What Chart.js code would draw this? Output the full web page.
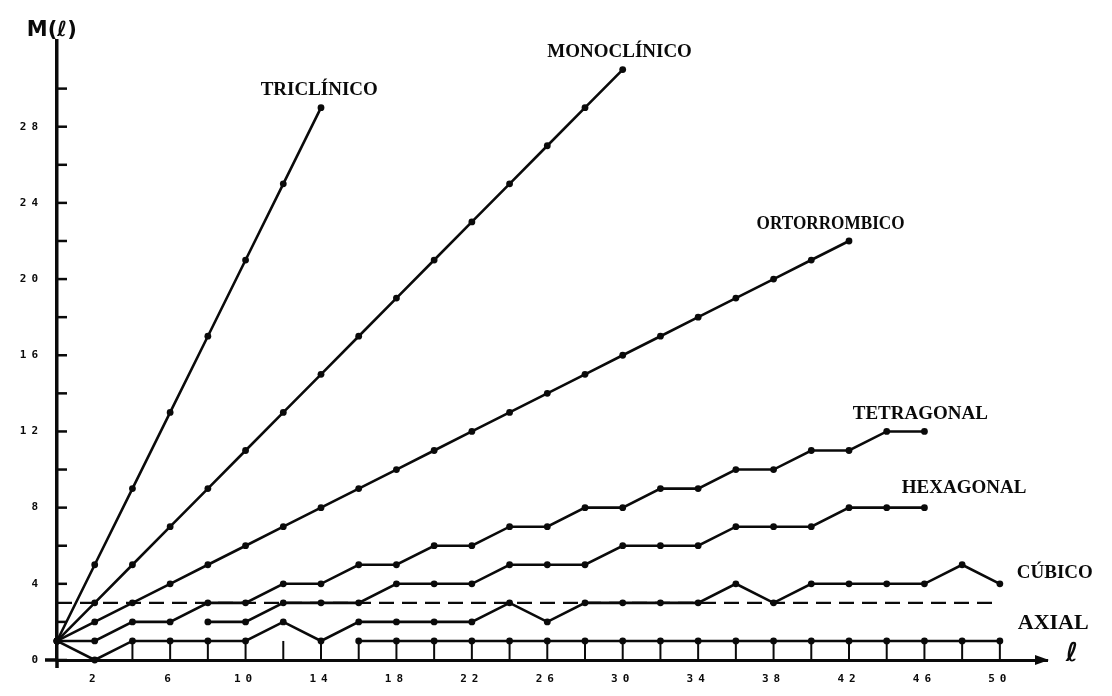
<!DOCTYPE html>
<html lang="es">
<head>
<meta charset="utf-8">
<title>M(ℓ)</title>
<script src="https://cdn.jsdelivr.net/npm/chart.js@4.4.1/dist/chart.umd.min.js"></script>
<style>
  html, body { margin: 0; padding: 0; background: #fff; }
  #wrap { width: 1112px; height: 696px; }
</style>
</head>
<body>
<div id="wrap"><canvas id="chart-m"></canvas></div>
<script>
// l values (even), and M(l)
const lValues = [0, 2, 4, 6, 8, 10, 12, 14, 16, 18, 20, 22, 24, 26, 28, 30, 32, 34, 36, 38, 40, 42, 44, 46, 48, 50];

const triclinico = [1, 5, 9, 13, 17, 21, 25, 29];
const monoclinico = [1, 3, 5, 7, 9, 11, 13, 15, 17, 19, 21, 23, 25, 27, 29, 31];
const ortorrombico = [1, 2, 3, 4, 5, 6, 7, 8, 9, 10, 11, 12, 13, 14, 15, 16, 17, 18, 19, 20, 21, 22];
const tetragonal = [1, 1, 2, 2, 3, 3, 4, 4, 5, 5, 6, 6, 7, 7, 8, 8, 9, 9, 10, 10, 11, 11, 12, 12];
const hexagonal = [null, null, null, null, 2, 2, 3, 3, 3, 4, 4, 4, 5, 5, 5, 6, 6, 6, 7, 7, 7, 8, 8, 8];
const cubico = [1, 0, 1, 1, 1, 1, 2, 1, 2, 2, 2, 2, 3, 2, 3, 3, 3, 3, 4, 3, 4, 4, 4, 4, 5, 4];
const axial = [null, null, null, null, null, null, null, null, 1, 1, 1, 1, 1, 1, 1, 1, 1, 1, 1, 1, 1, 1, 1, 1, 1, 1];

// dashed reference level
const nivelL = [0, 50];
const nivelM = [3, 3];

const tickLabelsL = [2, 6, 10, 14, 18, 22, 26, 30, 34, 38, 42, 46, 50];
const tickLabelsM = [0, 4, 8, 12, 16, 20, 24, 28];

const ink = '#0a0a0a';

const toPoints = (series, xs = lValues) => series.map((m, i) => ({ x: xs[i], y: m }));

// curve names, anchored in data units (l, M)
const annotations = [
  { text: 'TRICLÍNICO', l: 10.8, m: 29.9, width: 133, font: 'bold 19px "Liberation Serif"' },
  { text: 'MONOCLÍNICO', l: 26.0, m: 31.9, width: 175, font: 'bold 19px "Liberation Serif"' },
  { text: 'ORTORROMBICO', l: 37.1, m: 22.9, width: 148, font: 'bold 19px "Liberation Serif"' },
  { text: 'TETRAGONAL', l: 42.2, m: 12.9, width: 159, font: 'bold 19px "Liberation Serif"' },
  { text: 'HEXAGONAL', l: 44.8, m: 9.0, width: 131, font: 'bold 19px "Liberation Serif"' },
  { text: 'CÚBICO', l: 50.9, m: 4.55, width: 93, font: 'bold 19px "Liberation Serif"' },
  { text: 'AXIAL', l: 50.95, m: 1.95, width: 75, font: 'bold 22px "Liberation Serif"' },
  { text: 'M(ℓ)', l: -1.6, m: 33.05, width: 58, font: 'bold 21px "DejaVu Sans"' },
  { text: 'ℓ', l: 53.5, m: 0.3, width: 22, font: 'bold oblique 26px "DejaVu Sans"' },
];

const inwardAxes = {
  id: 'inwardAxes',
  beforeDraw(chart) {
    chart.ctx.letterSpacing = '5px';
  },
  afterDraw(chart) {
    const { ctx, chartArea: a, scales: { x, y } } = chart;
    ctx.save();
    ctx.letterSpacing = '0px';
    ctx.strokeStyle = ink;
    ctx.fillStyle = ink;
    ctx.lineCap = 'butt';

    // y ticks point into the plot
    ctx.lineWidth = 2.5;
    y.ticks.forEach((t) => {
      if (t.value % 2 !== 0) return;
      const py = y.getPixelForValue(t.value);
      ctx.beginPath();
      ctx.moveTo(a.left, py);
      ctx.lineTo(a.left + 10, py);
      ctx.stroke();
    });

    // x ticks rise from the axis up to M = 1
    const topPx = y.getPixelForValue(1);
    ctx.lineWidth = 2;
    x.ticks.forEach((t) => {
      if (t.value < 4 || t.value > 50 || t.value % 2 !== 0) return;
      const px = x.getPixelForValue(t.value);
      ctx.beginPath();
      ctx.moveTo(px, a.bottom);
      ctx.lineTo(px, topPx);
      ctx.stroke();
    });

    // axes cross a little past the origin
    ctx.lineWidth = 3.5;
    ctx.beginPath();
    ctx.moveTo(a.left, a.bottom);
    ctx.lineTo(a.left, a.bottom + 8);
    ctx.moveTo(a.left, a.bottom);
    ctx.lineTo(a.left - 12, a.bottom);
    ctx.stroke();

    // arrow head on the l axis
    ctx.beginPath();
    ctx.moveTo(a.right + 2, a.bottom);
    ctx.lineTo(a.right - 12, a.bottom - 5);
    ctx.lineTo(a.right - 12, a.bottom + 5);
    ctx.closePath();
    ctx.fill();

    ctx.textBaseline = 'middle';
    ctx.textAlign = 'left';
    annotations.forEach((n) => {
      ctx.font = n.font;
      ctx.fillText(n.text, x.getPixelForValue(n.l), y.getPixelForValue(n.m), n.width);
    });
    ctx.restore();
  },
};

const lineSet = (label, series) => ({
  label,
  data: toPoints(series),
  borderColor: ink,
  backgroundColor: ink,
  borderWidth: 2.6,
  pointRadius: 3.4,
  pointBackgroundColor: ink,
  pointBorderWidth: 0,
  tension: 0,
  clip: false,
});

const tickFont = { family: '"DejaVu Sans Mono"', size: 11, weight: 'bold' };

new Chart(document.getElementById('chart-m'), {
  type: 'line',
  data: {
    datasets: [
      lineSet('TRICLÍNICO', triclinico),
      lineSet('MONOCLÍNICO', monoclinico),
      lineSet('ORTORROMBICO', ortorrombico),
      lineSet('TETRAGONAL', tetragonal),
      lineSet('HEXAGONAL', hexagonal),
      lineSet('CÚBICO', cubico),
      lineSet('AXIAL', axial),
      {
        label: 'nivel',
        data: toPoints(nivelM, nivelL),
        borderColor: ink,
        borderWidth: 2.4,
        borderDash: [15, 8],
        pointRadius: 0,
        clip: false,
      },
    ],
  },
  options: {
    responsive: true,
    maintainAspectRatio: false,
    animation: false,
    devicePixelRatio: 1,
    layout: { padding: { top: 41, right: 65, bottom: 0, left: 0 } },
    plugins: {
      legend: { display: false },
      tooltip: { enabled: false },
    },
    scales: {
      x: {
        type: 'linear',
        min: 0,
        max: 52.5,
        afterFit: (s) => { s.height = 36; },
        grid: { display: false, drawTicks: false },
        border: { color: ink, width: 3 },
        ticks: {
          stepSize: 2,
          autoSkip: false,
          maxRotation: 0,
          padding: 13,
          color: ink,
          font: tickFont,
          callback: (v) => (tickLabelsL.includes(v) ? String(v) : ''),
        },
      },
      y: {
        min: 0,
        max: 32.5,
        afterFit: (s) => { s.width = 57; },
        grid: { display: false, drawTicks: false },
        border: { color: ink, width: 3.5 },
        ticks: {
          stepSize: 2,
          autoSkip: false,
          padding: 14,
          color: ink,
          font: tickFont,
          callback: (v) => (tickLabelsM.includes(v) ? String(v) : ''),
        },
      },
    },
  },
  plugins: [inwardAxes],
});
</script>
</body>
</html>
